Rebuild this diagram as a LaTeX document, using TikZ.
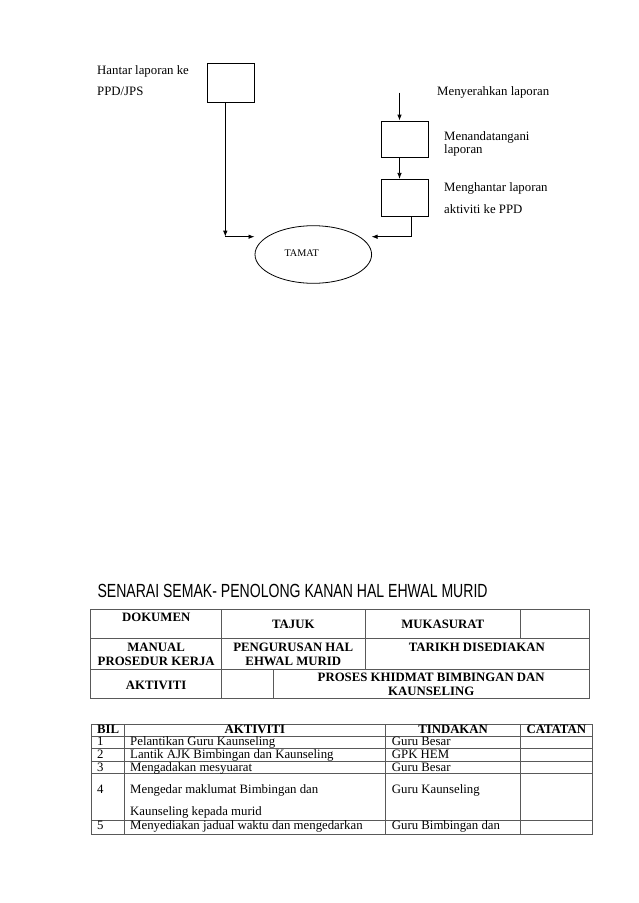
\documentclass[tikz,border=0pt]{standalone}
\usepackage{fontspec}
\setmainfont{Liberation Serif}
\newfontfamily\titlefont{Liberation Sans}
\usepackage{graphicx}
\usetikzlibrary{arrows.meta,shapes.geometric}

\begin{document}
\begin{tikzpicture}[x=1pt,y=-1pt,
  box/.style={draw,line width=0.8pt,minimum width=47pt,inner sep=0pt},
  arr/.style={line width=0.8pt,-{Latex[length=6pt,width=4.5pt]}},
  ln/.style={line width=0.8pt},
  lbl/.style={anchor=base west,inner sep=0pt,font=\fontsize{12.8}{14}\selectfont},
  ctxt/.style={anchor=base,inner sep=0pt,font=\fontsize{12.8}{14}\selectfont},
  btxt/.style={anchor=base,inner sep=0pt,font=\fontsize{12.8}{14}\selectfont\bfseries},
  grid/.style={line width=0.9pt,draw=black!65}]
\useasboundingbox[fill=white] (0,0) rectangle (638,903);

% ---------- flowchart ----------
\node[box,minimum height=39pt] (b1) at (230.5,82.5) {};
\node[box,minimum height=36pt] (b2) at (404.5,139) {};
\node[box,minimum height=37.4pt] (b3) at (404.5,198) {};
\node[draw,ellipse,line width=0.8pt,minimum width=116.6pt,minimum height=57.6pt,inner sep=0pt] (e) at (313.3,254.5) {};
\node[anchor=base west,inner sep=0pt,font=\fontsize{10.2}{12}\selectfont] (tamat) at (284.3,256.7) {TAMAT};

\node[lbl] (t1a) at (97,74) {Hantar laporan ke};
\node[lbl] (t1b) at (97,95.7) {PPD/JPS};
\node[lbl] (t2) at (437,95.7) {Menyerahkan laporan};
\node[lbl] (t3a) at (444,140) {Menandatangani};
\node[lbl] (t3b) at (444,153.3) {laporan};
\node[lbl] (t4a) at (444,191.7) {Menghantar laporan};
\node[lbl] (t4b) at (444,213.3) {aktiviti ke PPD};

\coordinate (c1) at (225.3,236.7);
\coordinate (p1) at (254.5,236.7);
\coordinate (s2) at (399.5,92.7);
\coordinate (c3) at (411,236.7);
\coordinate (p3) at (371.5,236.7);

\draw[arr] (b1.south -| c1) -- (c1);
\draw[arr] (c1) -- (p1);
\draw[arr] (s2) -- (s2 |- b2.north);
\draw[arr] (b2.south -| s2) -- (b3.north -| s2);
\draw[ln] (b3.south -| c3) -- (c3);
\draw[arr] (c3) -- (p3);

% ---------- title ----------
\node[anchor=base west,inner sep=0pt] (title) at (97.3,597.7)
  {\titlefont\fontsize{19}{22}\selectfont\scalebox{0.74}[1]{SENARAI SEMAK- PENOLONG KANAN HAL EHWAL MURID}};

% ---------- table 1 ----------
\draw[grid] (90.7,609) rectangle (589,698.3);
\draw[grid] (90.7,638.3) -- (589,638.3);
\draw[grid] (90.7,669) -- (589,669);
\draw[grid] (221.7,609) -- (221.7,698.3);
\draw[grid] (365,609) -- (365,669);
\draw[grid] (520.7,609) -- (520.7,638.3);
\draw[grid] (273.3,669) -- (273.3,698.3);

\node[btxt] (h1) at (156.2,621) {DOKUMEN};
\node[btxt] (h2) at (293.3,628.3) {TAJUK};
\node[btxt] (h3) at (442.8,628.3) {MUKASURAT};
\node[btxt] (m1a) at (156.2,651.7) {MANUAL};
\node[btxt] (m1b) at (156.2,665.7) {PROSEDUR KERJA};
\node[btxt] (m2a) at (293.3,651.7) {PENGURUSAN HAL};
\node[btxt] (m2b) at (293.3,665.7) {EHWAL MURID};
\node[btxt] (m3) at (476.8,651.7) {TARIKH DISEDIAKAN};
\node[btxt] (a1) at (156.2,689) {AKTIVITI};
\node[btxt] (a2a) at (431.2,681.7) {PROSES KHIDMAT BIMBINGAN DAN};
\node[btxt] (a2b) at (431.2,695.7) {KAUNSELING};

% ---------- table 2 ----------
\draw[grid] (91.3,724.5) rectangle (592,834);
\foreach \yy in {736,748.3,761,773.5,820}
  \draw[grid] (91.3,\yy) -- (592,\yy);
\foreach \xx in {124.3,385.5,520.7}
  \draw[grid] (\xx,724.5) -- (\xx,834);

\node[anchor=base west,inner sep=0pt,font=\fontsize{12.8}{14}\selectfont\bfseries] (k0) at (97,733.7) {BIL};
\node[btxt] (k1) at (254.9,733.7) {AKTIVITI};
\node[btxt] (k2) at (453.1,733.7) {TINDAKAN};
\node[btxt] (k3) at (556.3,733.7) {CATATAN};

\node[lbl] (n1) at (97,745.8) {1};
\node[lbl] (r1) at (130,745.8) {Pelantikan Guru Kaunseling};
\node[lbl] (d1) at (391.7,745.8) {Guru Besar};
\node[lbl] (n2) at (97,758.4) {2};
\node[lbl] (r2) at (130,758.4) {Lantik AJK Bimbingan dan Kaunseling};
\node[lbl] (d2) at (391.7,758.4) {GPK HEM};
\node[lbl] (n3) at (97,771) {3};
\node[lbl] (r3) at (130,771) {Mengadakan mesyuarat};
\node[lbl] (d3) at (391.7,771) {Guru Besar};
\node[lbl] (n4) at (97,793) {4};
\node[lbl] (r4a) at (130,793) {Mengedar maklumat Bimbingan dan};
\node[lbl] (r4b) at (130,815.8) {Kaunseling kepada murid};
\node[lbl] (d4) at (391.7,793) {Guru Kaunseling};
\node[lbl] (n5) at (97,829.8) {5};
\node[lbl] (r5) at (130,829.8) {Menyediakan jadual waktu dan mengedarkan};
\node[lbl] (d5) at (391.7,829.8) {Guru Bimbingan dan};
\end{tikzpicture}
\end{document}
